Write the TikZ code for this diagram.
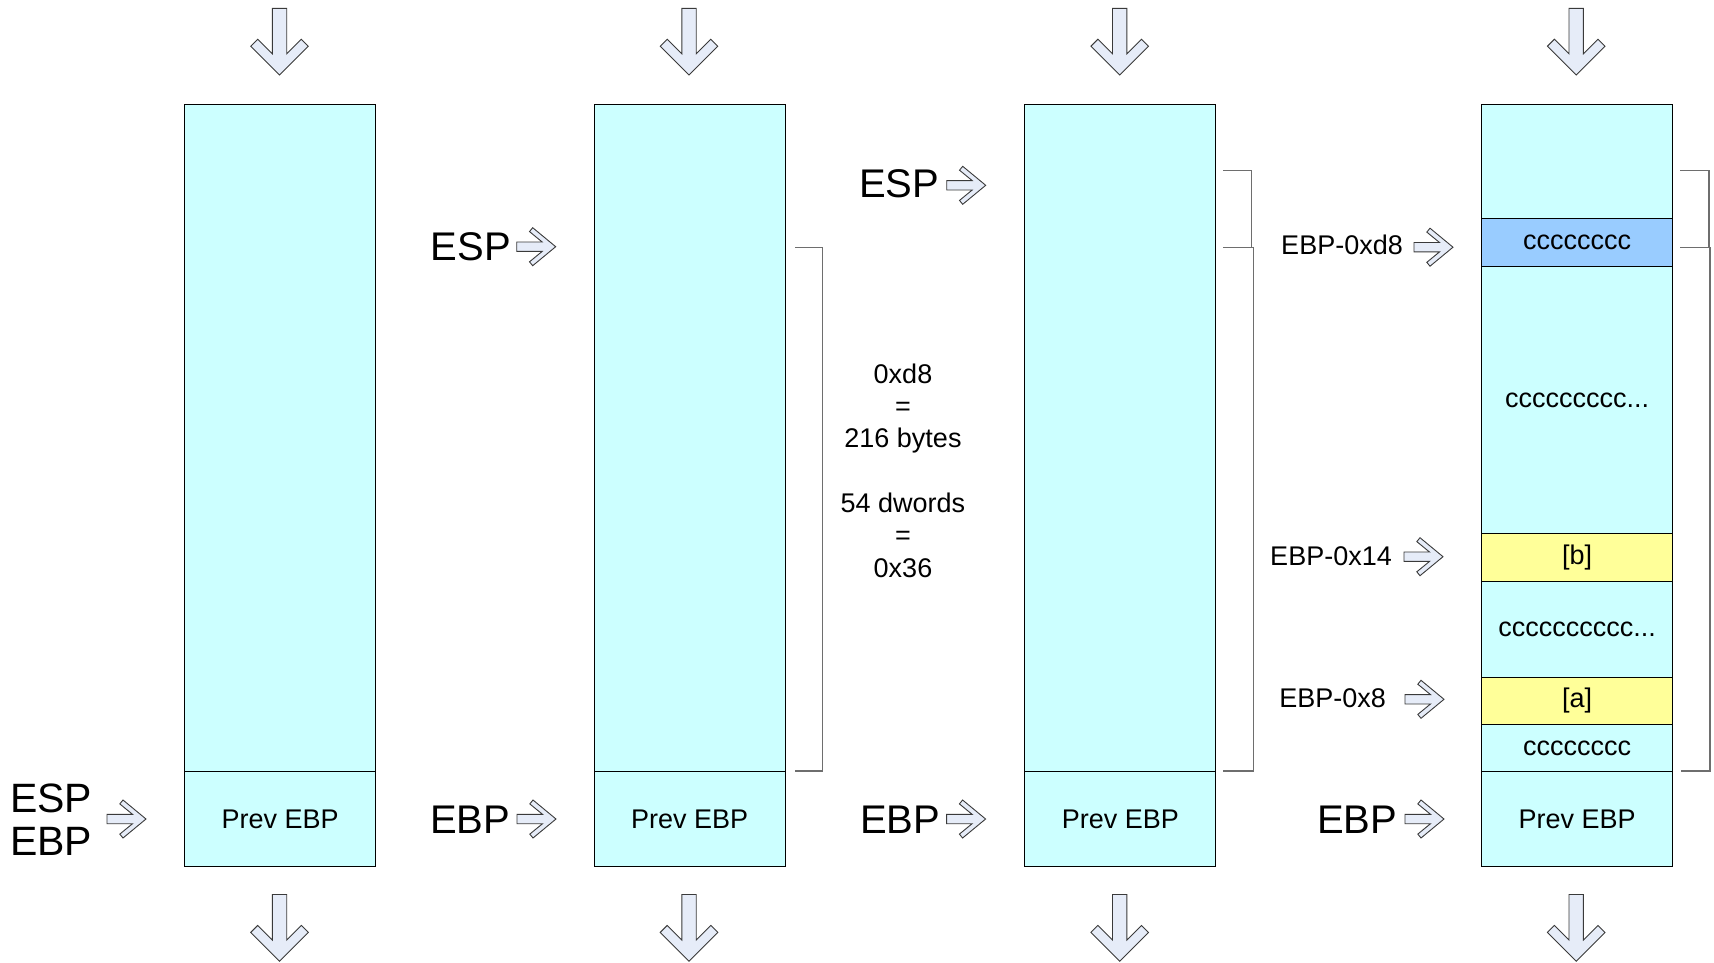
\documentclass[tikz,border=0pt]{standalone}
\usepackage{fontspec}
\setmainfont{Liberation Sans}
\definecolor{stackcyan}{HTML}{CCFFFF}
\definecolor{slotblue}{HTML}{99CCFF}
\definecolor{slotyellow}{HTML}{FFFF99}
\definecolor{arrowfill}{HTML}{E6ECF8}
\definecolor{arrowline}{HTML}{3A3A3A}
\definecolor{bracketgray}{HTML}{6E6E6E}

\begin{document}
\begin{tikzpicture}[x=1pt,y=-1pt,
  cell/.style={draw=black, line width=1.1pt, fill=stackcyan, minimum width=191pt,
    inner sep=0pt, anchor=north west, font=\fontsize{27}{32}\selectfont},
  bluecell/.style={cell, fill=slotblue},
  yellowcell/.style={cell, fill=slotyellow},
  biglabel/.style={inner sep=0pt, anchor=base east, font=\fontsize{40}{48}\selectfont},
  smalllabel/.style={inner sep=0pt, anchor=base east, font=\fontsize{27}{32}\selectfont},
  midtext/.style={inner sep=0pt, anchor=base, font=\fontsize{27}{32}\selectfont},
  blockarrow/.style={draw=arrowline, fill=arrowfill, line width=0.9pt, line join=miter},
  bracket/.style={draw=bracketgray, line width=1.3pt},
  downarrow/.pic={
    \path[blockarrow] (-7.2,0) -- (7.2,0) -- (7.2,45.5) -- (21.8,30.9) -- (28.8,37.9)
      -- (0,66.7) -- (-28.8,37.9) -- (-21.8,30.9) -- (-7.2,45.5) -- cycle;},
  rightarrow/.pic={
    \path[blockarrow] (0,-4.7) -- (25.5,-4.7) -- (12.8,-15.1) -- (16,-19) -- (39,0)
      -- (16,19) -- (12.8,15.1) -- (25.5,4.7) -- (0,4.7) -- cycle;}
]
\useasboundingbox (0,0) rectangle (1714,962);

% ---------- stack column 1: on entry ----------
\node[cell, minimum height=667pt] (s1body) at (184,104) {};
\node[cell, minimum height=95pt] (s1prev) at (184,771) {Prev EBP};
\pic (in1) at (279.5,8.3) {downarrow};
\pic (out1) at (279.5,894.5) {downarrow};
\node[inner sep=0pt, anchor=base west, font=\fontsize{41}{49}\selectfont] (s1esp) at (10,812) {ESP};
\node[inner sep=0pt, anchor=base west, font=\fontsize{41}{49}\selectfont] (s1ebp) at (10,855) {EBP};
\pic (p1) at (107,819) {rightarrow};

% ---------- stack column 2: after mov ebp,esp / sub esp ----------
\node[cell, minimum height=667pt] (s2body) at (593.5,104) {};
\node[cell, minimum height=95pt] (s2prev) at (593.5,771) {Prev EBP};
\pic (in2) at (689,8.3) {downarrow};
\pic (out2) at (689,894.5) {downarrow};
\node[biglabel] (s2esp) at (511,260) {ESP};
\pic (p2a) at (516.7,246.7) {rightarrow};
\node[biglabel] (s2ebp) at (510.5,833) {EBP};
\pic (p2b) at (517,819) {rightarrow};
\path[bracket] (795,247.3) -- (822.5,247.3) -- (822.5,771) -- (794.5,771);

% size of the local frame
\node[midtext] (m1) at (903,383.3) {0xd8};
\node[midtext] (m2) at (903,415.6) {=};
\node[midtext] (m3) at (903,447.9) {216 bytes};
\node[midtext] (m4) at (903,512.5) {54 dwords};
\node[midtext] (m5) at (903,544.8) {=};
\node[midtext] (m6) at (903,577.1) {0x36};

% ---------- stack column 3: after pushes ----------
\node[cell, minimum height=667pt] (s3body) at (1024.3,104) {};
\node[cell, minimum height=95pt] (s3prev) at (1024.3,771) {Prev EBP};
\pic (in3) at (1119.7,8.3) {downarrow};
\pic (out3) at (1119.7,894.5) {downarrow};
\node[biglabel] (s3esp) at (939.3,197.5) {ESP};
\pic (p3a) at (946.7,185.3) {rightarrow};
\node[biglabel] (s3ebp) at (940.3,833) {EBP};
\pic (p3b) at (946.6,819) {rightarrow};
\path[bracket] (1223.3,170.7) -- (1251.7,170.7) -- (1251.7,247.3) -- (1223.3,247.3);
\path[bracket] (1223.3,247.3) -- (1253.3,247.3) -- (1253.3,771) -- (1223.3,771);

% ---------- stack column 4: locals filled ----------
\node[cell, minimum height=114.3pt] (s4top) at (1481,104) {};
\node[bluecell, minimum height=47.4pt] (s4d8) at (1481,218.3) {cccccccc};
\node[cell, minimum height=267.6pt] (s4fill1) at (1481,265.7) {ccccccccc...};
\node[yellowcell, minimum height=47.7pt] (s4b) at (1481,533.3) {[b]};
\node[cell, minimum height=95.7pt] (s4fill2) at (1481,581) {cccccccccc...};
\node[yellowcell, minimum height=47pt] (s4a) at (1481,676.7) {[a]};
\node[cell, minimum height=47.3pt] (s4fill3) at (1481,723.7) {cccccccc};
\node[cell, minimum height=95pt] (s4prev) at (1481,771) {Prev EBP};
\pic (in4) at (1576.2,8.3) {downarrow};
\pic (out4) at (1576.2,894.5) {downarrow};
\node[smalllabel] (l4d8) at (1403,254.3) {EBP-0xd8};
\pic (p4a) at (1414,247.2) {rightarrow};
\node[smalllabel] (l4x14) at (1392,565) {EBP-0x14};
\pic (p4b) at (1404,556.7) {rightarrow};
\node[smalllabel] (l4x8) at (1386,707.7) {EBP-0x8};
\pic (p4c) at (1405,699.3) {rightarrow};
\node[biglabel] (s4ebp) at (1397.5,833) {EBP};
\pic (p4d) at (1405,819) {rightarrow};
\path[bracket] (1680,170.7) -- (1709,170.7) -- (1709,247.3) -- (1680,247.3);
\path[bracket] (1680,247.3) -- (1710,247.3) -- (1710,771) -- (1681,771);
\end{tikzpicture}
\end{document}
